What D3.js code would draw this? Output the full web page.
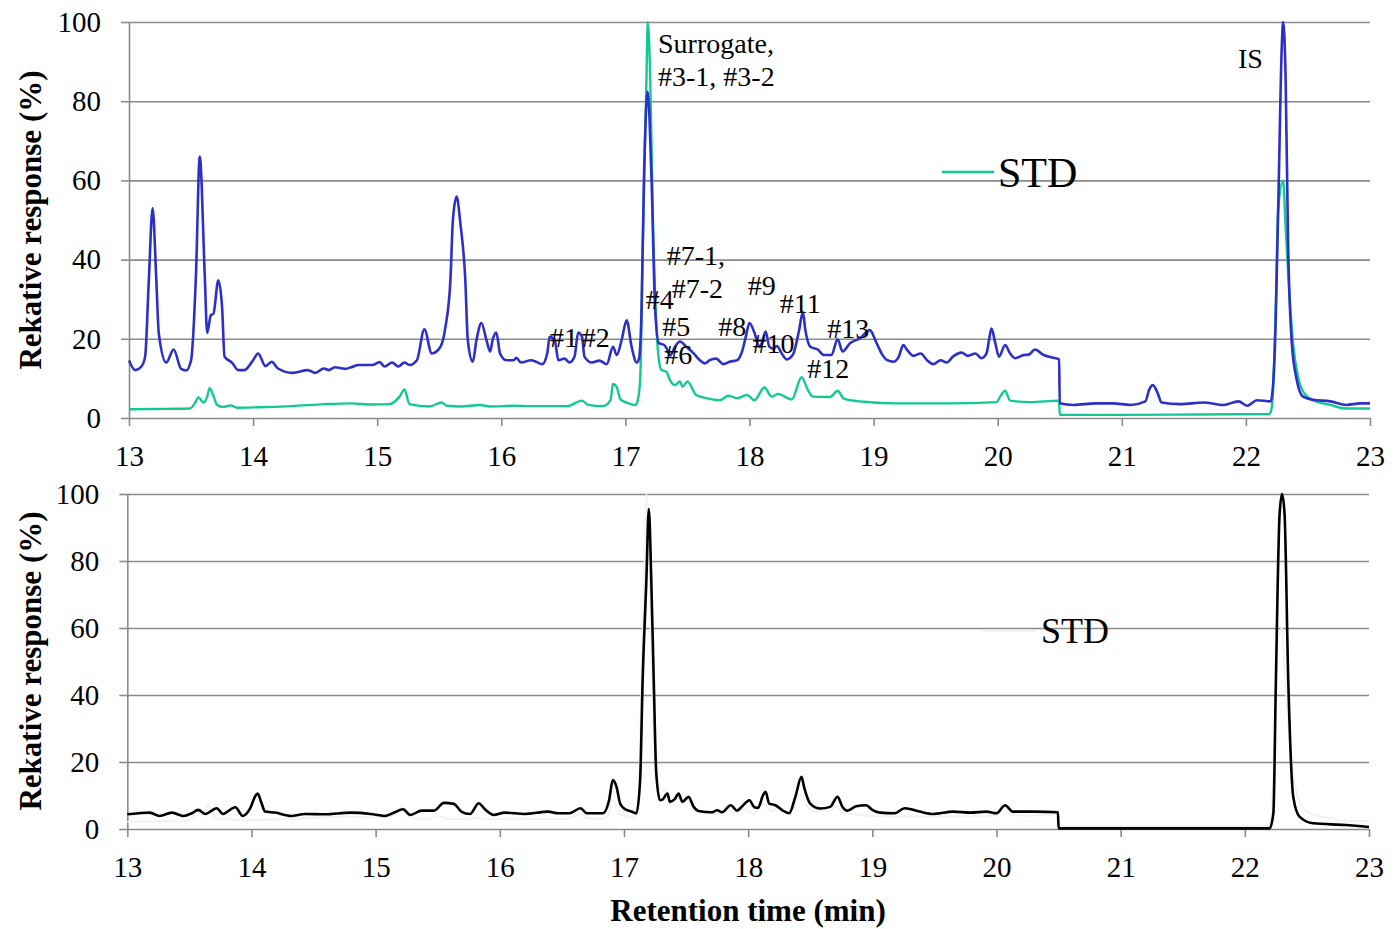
<!DOCTYPE html>
<html>
<head>
<meta charset="UTF-8">
<script src="https://d3js.org/d3.v7.min.js"></script>
<style>
  body { margin: 0; background: #fff; font-family: "Liberation Serif", "Times New Roman", serif; }
  .tick text { font-family: "Liberation Serif", serif; font-size: 29px; fill: #000; }
  .tick line, .domain { stroke: #8a8a8a; stroke-width: 1.6px; }
  .grid line { stroke: #8a8a8a; stroke-width: 1.6px; }
  .grid .domain { display: none; }
  .title { font-family: "Liberation Serif", serif; font-weight: bold; font-size: 31px; }
  .note { font-family: "Liberation Serif", serif; font-size: 28px; }
</style>
</head>
<body>
<svg id="chart" width="1393" height="929"></svg>
<script>
// retention time (min), relative response (%)
const sampleTop = [
  [13.00,14.5],[13.05,12.1],[13.10,13],[13.13,15.5],[13.16,35],[13.19,53],[13.22,35],[13.24,21.4],[13.30,14],
  [13.36,17.3],[13.42,12.4],[13.46,12],[13.50,14.6],[13.54,36.5],[13.57,66],[13.61,36.5],[13.63,21.5],[13.66,26],
  [13.68,26.3],[13.72,34.8],[13.75,28],[13.77,15.5],[13.83,14],[13.88,12.1],[13.93,12.1],[14.00,14.6],[14.04,16.3],
  [14.10,13.1],[14.15,14.2],[14.20,12.5],[14.32,11.4],[14.44,12.1],[14.50,11.4],[14.57,12.5],[14.61,12.1],[14.66,12.8],
  [14.74,12.4],[14.79,12.8],[14.85,13.4],[14.96,13.4],[15.02,14.1],[15.06,13],[15.12,14],[15.17,13],[15.22,14],
  [15.26,13.4],[15.32,14.6],[15.38,22.4],[15.44,16.3],[15.51,18],[15.55,23],[15.59,34.8],[15.61,50],[15.64,55.9],
  [15.67,49.2],[15.71,34.8],[15.73,19.7],[15.77,14.2],[15.80,19.7],[15.84,24],[15.88,19.7],[15.91,16.8],[15.93,19.7],
  [15.96,21.6],[15.99,16.3],[16.04,14.6],[16.10,14.6],[16.12,15.2],[16.16,14],[16.24,14.6],[16.28,14.2],[16.33,13.6],
  [16.37,16.3],[16.39,20.5],[16.43,19.7],[16.46,14.6],[16.51,15],[16.55,14],[16.59,15.5],[16.62,21.6],[16.65,20.5],
  [16.67,15.5],[16.73,14],[16.79,14.5],[16.85,13.6],[16.90,18],[16.93,15.9],[16.97,19.7],[17.01,24.7],[17.05,18],
  [17.09,14],[17.11,15],[17.13,27],[17.15,61],[17.18,82.4],[17.21,61],[17.24,27.3],[17.27,18.9],[17.31,18.5],
  [17.33,17.7],[17.36,15.8],[17.40,18],[17.44,19.3],[17.49,18],[17.55,16.3],[17.60,14.6],[17.64,13.8],[17.68,14.6],
  [17.73,15],[17.79,13.6],[17.84,14.2],[17.90,14.6],[17.94,16.8],[17.97,20.5],[18.00,24],[18.04,21.5],[18.08,18],
  [18.10,18.9],[18.13,21.8],[18.16,18],[18.19,17.5],[18.22,18.2],[18.26,16.3],[18.30,14.8],[18.35,16],[18.40,22.2],
  [18.43,26.8],[18.45,22.2],[18.49,18],[18.55,17.3],[18.60,15.9],[18.66,15.9],[18.71,19.9],[18.75,16.8],[18.81,18.9],
  [18.89,20.1],[18.97,22.2],[19.02,19.2],[19.07,16],[19.11,14.6],[19.16,14.2],[19.20,15.3],[19.24,18.4],[19.27,17.2],
  [19.32,15.7],[19.38,16.3],[19.43,14.6],[19.48,13.6],[19.54,14.6],[19.59,14],[19.64,15.5],[19.71,16.5],[19.76,15.7],
  [19.82,16.3],[19.87,15.1],[19.91,16.3],[19.93,19.7],[19.95,22.6],[19.98,19],[20.01,15.5],[20.06,18.4],[20.10,16.3],
  [20.14,15.1],[20.21,15.9],[20.25,16],[20.30,17.3],[20.37,15.9],[20.44,15.3],[20.495,14.8],[20.50,3.7],[20.61,3.3],
  [20.79,3.7],[20.93,3.7],[21.07,3.3],[21.19,4.2],[21.22,7.1],[21.25,8.3],[21.29,6.2],[21.32,3.9],[21.47,3.5],
  [21.66,3.9],[21.82,3.3],[21.94,4.2],[22.01,3.1],[22.09,4.5],[22.20,4.2],[22.23,14.6],[22.26,52.5],[22.29,94.6],
  [22.30,100],[22.32,86],[22.34,44],[22.37,18.9],[22.41,9.6],[22.46,5.4],[22.54,4.6],[22.68,4.2],[22.81,3.3],
  [22.92,3.7],[23.00,3.7]
];

const stdTop = [
  [13.00,2.2],[13.30,2.3],[13.49,2.4],[13.53,3.7],[13.56,5.2],[13.60,3.9],[13.63,5.4],[13.65,7.5],[13.68,5.6],
  [13.71,3.3],[13.76,2.8],[13.82,3.2],[13.87,2.6],[14.04,2.7],[14.31,3.0],[14.58,3.5],[14.79,3.7],[14.96,3.4],
  [15.10,3.5],[15.18,5.4],[15.22,7.2],[15.26,3.5],[15.42,2.9],[15.52,3.9],[15.56,3.1],[15.67,2.9],[15.83,3.3],
  [15.91,2.9],[16.10,3.1],[16.24,3.0],[16.53,3.0],[16.65,4.4],[16.70,3.3],[16.82,3.0],[16.88,4.5],[16.90,8.6],
  [16.93,7.8],[16.96,4.7],[17.01,3.9],[17.08,3.3],[17.10,4.5],[17.12,10.4],[17.14,44],[17.17,86],[17.18,100],
  [17.20,86],[17.22,52.5],[17.25,23],[17.27,14.6],[17.29,12.1],[17.33,11.7],[17.36,9.5],[17.40,8.3],[17.44,9.2],
  [17.46,7.9],[17.50,9.2],[17.57,5.8],[17.65,5.0],[17.76,4.5],[17.83,5.6],[17.90,5.0],[17.98,5.8],[18.04,4.5],
  [18.12,7.7],[18.18,5.4],[18.23,6.1],[18.34,4.7],[18.42,10.3],[18.47,7.1],[18.51,5.4],[18.65,5.3],[18.71,6.9],
  [18.76,4.9],[18.92,4.1],[19.19,3.7],[19.60,3.7],[19.99,4.0],[20.02,5.4],[20.06,6.9],[20.10,4.4],[20.26,4.0],
  [20.495,4.4],[20.50,0.8],[21.00,0.8],[21.60,0.9],[22.19,1.0],[22.21,2.9],[22.24,27.3],[22.26,52.5],[22.30,60],
  [22.32,48.3],[22.35,31.5],[22.38,18.9],[22.42,10.4],[22.47,6.2],[22.54,4.5],[22.68,3.3],[22.81,2.4],[23.00,2.4]
];

const sampleBottom = [
  [13.00,4.4],[13.09,4.7],[13.18,4.9],[13.26,3.9],[13.36,4.9],[13.45,3.9],[13.52,4.7],[13.57,5.7],[13.63,4.5],
  [13.72,6.2],[13.77,4.5],[13.87,6.5],[13.93,3.9],[13.99,6.2],[14.03,9.8],[14.05,10.6],[14.08,7.8],[14.11,5.2],
  [14.19,4.9],[14.32,3.9],[14.43,4.5],[14.59,4.4],[14.80,4.9],[14.96,4.5],[15.07,3.9],[15.15,4.9],[15.22,5.9],
  [15.28,4.2],[15.37,5.5],[15.47,5.5],[15.55,7.8],[15.63,7.5],[15.69,5.2],[15.76,4.5],[15.83,7.7],[15.88,5.9],
  [15.95,4.2],[16.04,4.9],[16.20,4.5],[16.39,5.2],[16.47,4.7],[16.56,4.7],[16.65,6.2],[16.70,4.7],[16.83,4.7],
  [16.88,8.6],[16.91,14.6],[16.94,12.6],[16.97,7.5],[17.01,5.9],[17.06,5.2],[17.10,4.7],[17.13,14.6],[17.15,44],
  [17.18,74],[17.20,95.5],[17.22,74],[17.24,44],[17.26,16.6],[17.29,8.6],[17.31,8.8],[17.35,10.6],[17.37,8.1],
  [17.41,9.0],[17.44,10.6],[17.47,8.1],[17.52,9.6],[17.56,6.7],[17.60,5.4],[17.71,5.0],[17.75,5.6],[17.79,5.0],
  [17.86,7.1],[17.91,5.5],[17.96,7.1],[18.01,8.6],[18.05,6.5],[18.08,6.3],[18.12,10.1],[18.14,11.1],[18.17,7.6],
  [18.22,7.1],[18.28,5.5],[18.33,4.7],[18.38,9.6],[18.43,15.6],[18.45,12.6],[18.50,7.6],[18.58,6.1],[18.66,6.6],
  [18.72,9.6],[18.76,6.6],[18.80,5.5],[18.87,6.8],[18.95,7.1],[19.00,5.7],[19.06,4.9],[19.18,4.7],[19.26,6.2],
  [19.38,5.2],[19.49,4.5],[19.65,5.2],[19.79,4.9],[19.92,5.2],[20.00,4.7],[20.07,7.1],[20.13,5.2],[20.31,5.2],
  [20.495,5.0],[20.50,0.2],[21.00,0.2],[22.20,0.2],[22.23,4.7],[22.25,44],[22.28,94],[22.30,100],[22.32,94],
  [22.35,44],[22.39,9.6],[22.44,3.7],[22.55,1.7],[22.81,1.2],[23.00,0.6]
];

const xTicks = [13, 14, 15, 16, 17, 18, 19, 20, 21, 22, 23];
const yTicks = [0, 20, 40, 60, 80, 100];

// peak labels in data units: [text, time, response]
const peakLabels = [
  ["Surrogate,", 17.263, 92.2], ["#3-1, #3-2", 17.263, 83.8], ["IS", 21.936, 88.4],
  ["#7-1,", 17.333, 38.6], ["#7-2", 17.373, 30.2], ["#4", 17.164, 27.4], ["#9", 17.985, 31.1],
  ["#11", 18.244, 26.4], ["#5", 17.297, 20.7], ["#8", 17.748, 20.7], ["#13", 18.627, 20.1],
  ["#1", 16.392, 17.9], ["#2", 16.648, 17.9], ["#10", 18.025, 16.5], ["#6", 17.313, 13.6],
  ["#12", 18.466, 10.0]
];

const svg = d3.select("#chart");

function panel(left, right, top, bottom) {
  const x = d3.scaleLinear().domain([13, 23]).range([left, right]);
  const y = d3.scaleLinear().domain([0, 100]).range([bottom, top]);

  svg.append("g").attr("class", "grid")
    .attr("transform", `translate(${left},0)`)
    .call(d3.axisLeft(y).tickValues(yTicks.slice(1)).tickSize(-(right - left)).tickFormat(""));

  svg.append("g")
    .attr("transform", `translate(0,${bottom})`)
    .call(d3.axisBottom(x).tickValues(xTicks).tickSize(8).tickSizeOuter(0).tickPadding(19).tickFormat(d3.format("d")));

  svg.append("g")
    .attr("transform", `translate(${left},0)`)
    .call(d3.axisLeft(y).tickValues(yTicks).tickSize(8).tickSizeOuter(0).tickPadding(20));

  return {x, y};
}

const drawLine = (p, data, color, w) => {
  const line = d3.line().x(d => p.x(d[0])).y(d => p.y(d[1])).curve(d3.curveMonotoneX);
  svg.append("path").datum(data)
    .attr("d", line).attr("fill", "none")
    .attr("stroke", color).attr("stroke-width", w)
    .attr("stroke-linejoin", "round");
};

// top panel
const p1 = panel(129, 1370, 22, 418);
drawLine(p1, stdTop, "#12c995", 2.4);
drawLine(p1, sampleTop, "#2e2ec8", 2.6);

svg.selectAll(".note").data(peakLabels).enter()
  .append("text").attr("class", "note")
  .attr("x", d => p1.x(d[1])).attr("y", d => p1.y(d[2]))
  .text(d => d[0]);

svg.append("line").attr("x1", 942).attr("x2", 994).attr("y1", 172).attr("y2", 172)
  .attr("stroke", "#12c995").attr("stroke-width", 2.4);
svg.append("text").attr("x", 998).attr("y", 187).style("font-size", "42px").text("STD");

// bottom panel
const p2 = panel(127.3, 1369, 494, 829);
drawLine(p2, stdTop, "#f2f2f2", 2);
drawLine(p2, sampleBottom, "#000", 2.6);

svg.append("line").attr("x1", 983).attr("x2", 1037).attr("y1", 631).attr("y2", 631)
  .attr("stroke", "#f2f2f2").attr("stroke-width", 2);
svg.append("text").attr("x", 1041).attr("y", 643).style("font-size", "36px").text("STD");

// axis titles
svg.append("text").attr("class", "title").attr("text-anchor", "middle")
  .attr("transform", "translate(41,220) rotate(-90)").text("Rekative response (%)");
svg.append("text").attr("class", "title").attr("text-anchor", "middle")
  .attr("transform", "translate(41,661) rotate(-90)").text("Rekative response (%)");
svg.append("text").attr("class", "title").attr("text-anchor", "middle")
  .attr("x", 748).attr("y", 921).text("Retention time (min)");
</script>
</body>
</html>
